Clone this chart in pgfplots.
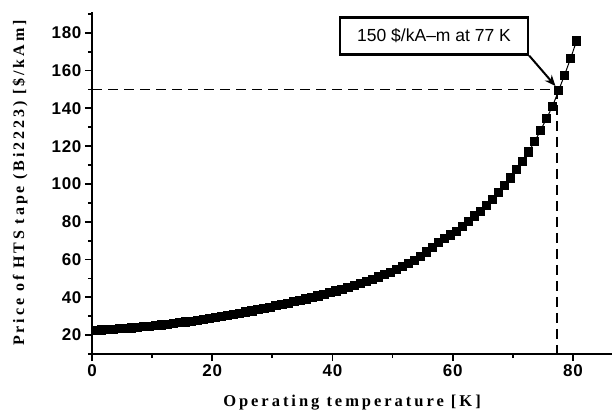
\documentclass[border=0pt]{standalone}
\usepackage{fontspec}
\setmainfont{Liberation Sans}
\newfontfamily\labelfont[LetterSpace=18]{Liberation Serif}
\newfontfamily\tickfont[LetterSpace=4]{Liberation Sans}
\usepackage{pgfplots}
\pgfplotsset{compat=1.18}
\usetikzlibrary{arrows.meta}

\begin{document}
\begin{tikzpicture}
\begin{axis}[
  scale only axis,
  width=520pt, height=342pt,
  xmin=0, xmax=86.5,
  ymin=10, ymax=191,
  axis x line=bottom, axis y line=left,
  axis line style={-, line width=2pt},
  xtick={0,20,...,80}, minor xtick={10,30,50,70},
  ytick={20,40,...,180}, minor ytick={10,30,...,190},
  tick align=outside,
  tick style={black, line width=1.8pt},
  major tick length=7pt, minor tick length=4pt,
  ticklabel style={font=\tickfont\bfseries\fontsize{17}{17}\selectfont},
  /pgf/number format/assume math mode=true,
  every axis x label/.style={at={(axis description cs:0.5,0)}, yshift=-49pt, anchor=center},
  every axis y label/.style={at={(axis description cs:0,0.5)}, xshift=-72pt, rotate=90, anchor=center},
  xlabel={\labelfont\bfseries\fontsize{16.5}{16.5}\selectfont Operating temperature [K]},
  ylabel={\labelfont\bfseries\fontsize{16}{16}\selectfont Price of HTS tape (Bi2223) [\$/kAm]},
  clip=false,
]

% reference lines at 150 $/kA-m and 77 K
\addplot[black, line width=1.8pt, dash pattern=on 10pt off 6pt] coordinates {(0,150) (77.3,150) (77.3,10)};

\addplot[black, line width=1pt, mark=square*, mark size=4.1pt] coordinates {
 (0.6,22.5) (1.6,22.7) (2.6,22.9) (3.6,23.1) (4.6,23.3)
 (5.6,23.5) (6.6,23.8) (7.6,24.1) (8.6,24.4) (9.6,24.7)
 (10.6,25.0) (11.6,25.3) (12.6,25.7) (13.6,26.1) (14.6,26.5)
 (15.6,26.9) (16.6,27.3) (17.6,27.8) (18.6,28.3) (19.6,28.8)
 (20.6,29.3) (21.6,29.8) (22.6,30.4) (23.6,31.0) (24.6,31.6)
 (25.6,32.2) (26.6,32.8) (27.6,33.4) (28.6,34.1) (29.6,34.8)
 (30.6,35.5) (31.6,36.2) (32.6,36.9) (33.6,37.6) (34.6,38.3)
 (35.6,39.1) (36.6,39.9) (37.6,40.7) (38.6,41.5) (39.6,42.4)
 (40.6,43.3) (41.6,44.2) (42.6,45.2) (43.6,46.2) (44.6,47.3)
 (45.6,48.4) (46.6,49.5) (47.6,50.7) (48.6,51.9) (49.6,53.2)
 (50.6,54.6) (51.6,56.1) (52.6,57.7) (53.6,59.5) (54.6,61.5)
 (55.6,64.0) (56.6,66.5) (57.6,68.9) (58.6,71.0) (59.6,73.0)
 (60.6,75.0) (61.6,77.5) (62.6,80.3) (63.6,83.0) (64.6,85.6)
 (65.6,88.4) (66.6,91.6) (67.6,95.3) (68.6,99.1) (69.6,103.1)
 (70.6,107.5) (71.6,112.0) (72.6,116.9) (73.6,122.3) (74.6,128.2)
 (75.6,134.6) (76.6,141.1) (77.6,149.3) (78.6,157.6) (79.6,166.3)
 (80.6,175.7)
};

\node[draw, line width=2.2pt, fill=white, minimum width=188pt, minimum height=37pt,
      font=\fontsize{17.5}{17.5}\selectfont] (lab) at (axis cs:56.9,178.3) {150 \$/kA\textendash m at 77 K};
\draw[-{Stealth[length=11pt,width=9pt]}, line width=2pt] (lab.south east) -- (axis cs:77.1,151.8);
\end{axis}
\pgfresetboundingbox
\path ([shift={(-92pt,-63pt)}]current axis.south west) rectangle ([shift={(4pt,12pt)}]current axis.north east);
\end{tikzpicture}
\end{document}
